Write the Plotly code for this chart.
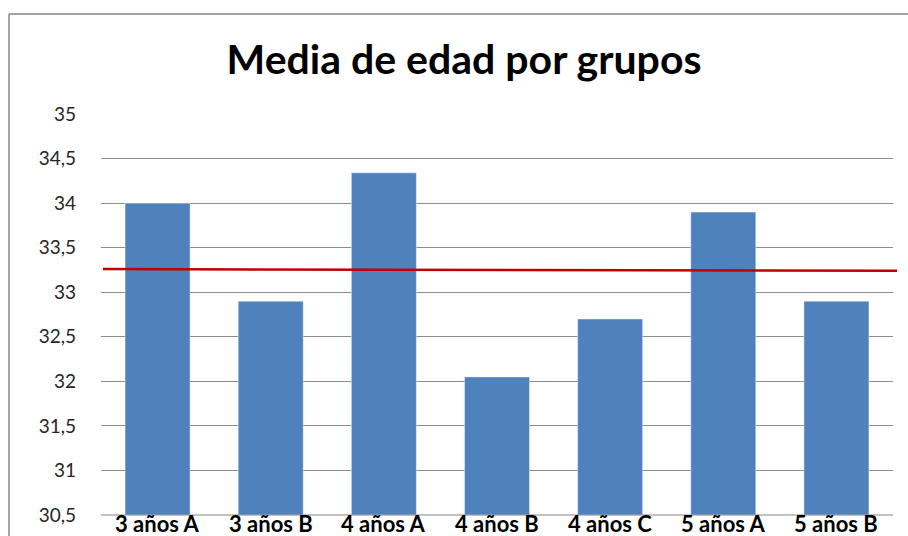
import plotly.graph_objects as go

# Groups and their mean ages
grupos = ["3 años A", "3 años B", "4 años A", "4 años B", "4 años C", "5 años A", "5 años B"]
media_edad = [34.0, 32.9, 34.34, 32.05, 32.7, 33.9, 32.9]

# Overall mean reference line (start and end value)
media_general = [33.26, 33.24]

# Y axis ticks
y_ticks = [30.5, 31, 31.5, 32, 32.5, 33, 33.5, 34, 34.5, 35]
y_tick_text = ["30,5", "31", "31,5", "32", "32,5", "33", "33,5", "34", "34,5", "35"]

W, H = 908, 536
ML, MR, MT, MB = 101, 15, 114, 21
PW = W - ML - MR
PH = H - MT - MB


def px_x(px):
    return (px - ML) / PW


def px_y(py):
    return (H - MB - py) / PH


fig = go.Figure()
fig.add_trace(go.Bar(
    x=grupos,
    y=[v - 30.5 for v in media_edad],
    base=30.5,
    marker=dict(color="#4F81BD", line=dict(color="rgba(255,255,255,0.45)", width=1)),
    hoverinfo="skip",
))

shapes = [
    # mean line
    dict(type="line", xref="paper", yref="y",
         x0=px_x(103), x1=px_x(897), y0=media_general[0], y1=media_general[1],
         line=dict(color="#C00000", width=2.5), layer="above"),
    # chart frame (left and top edges)
    dict(type="line", xref="paper", yref="paper",
         x0=px_x(9), x1=px_x(9), y0=px_y(560), y1=px_y(14),
         line=dict(color="#868686", width=1.5)),
    dict(type="line", xref="paper", yref="paper",
         x0=px_x(9), x1=px_x(930), y0=px_y(14), y1=px_y(14),
         line=dict(color="#868686", width=1.5)),
    # bottom axis line at 30,5
    dict(type="line", xref="paper", yref="paper", x0=0, x1=1, y0=0, y1=0,
         line=dict(color="#868686", width=1)),
]

# category labels under the bars
annotations = [
    dict(x=g, xref="x", y=0, yref="paper", yanchor="top", yshift=6,
         text=f"<b>{g}</b>", showarrow=False, borderpad=0,
         font=dict(family="Lato", size=22, color="black"))
    for g in grupos
]

fig.update_layout(
    width=W, height=H,
    margin=dict(l=ML, r=MR, t=MT, b=MB, autoexpand=False),
    paper_bgcolor="white", plot_bgcolor="white",
    bargap=0.425,
    showlegend=False,
    title=dict(text="<b>Media de edad por grupos</b>",
               x=464 / W, xref="container", xanchor="center",
               y=1 - 60 / H, yref="container", yanchor="middle",
               font=dict(family="Lato", size=41, color="black")),
    shapes=shapes,
    annotations=annotations,
    xaxis=dict(showgrid=False, showline=False, ticks="", automargin=False,
               showticklabels=False),
    yaxis=dict(range=[30.5, 35.0005], tickvals=y_ticks, ticktext=y_tick_text,
               showgrid=True, gridcolor="#8C8C8C", gridwidth=1,
               zeroline=False, showline=False, ticks="", automargin=False,
               ticklabelstandoff=24,
               tickfont=dict(family="Lato", size=19, color="#262626")),
)

fig.write_html("out.html")
